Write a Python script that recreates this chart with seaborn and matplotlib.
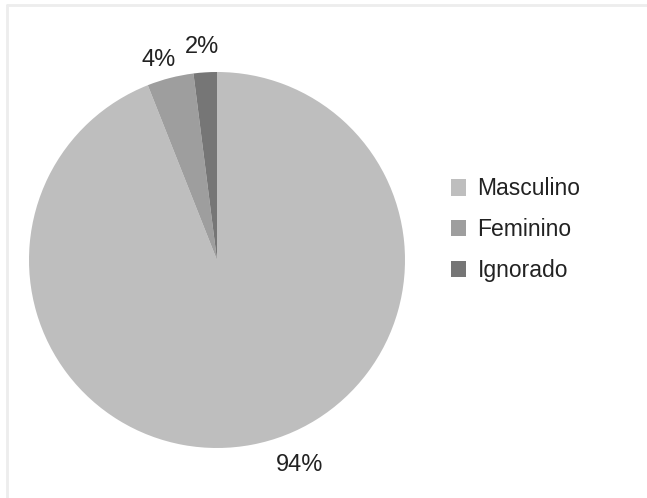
import matplotlib
matplotlib.use("Agg")
import matplotlib.pyplot as plt
import seaborn as sns
from matplotlib.patches import Rectangle
from matplotlib.lines import Line2D

categories = ["Masculino", "Feminino", "Ignorado"]
values = [94, 4, 2]
pct_labels = ["94%", "4%", "2%"]
colors = ["#BEBEBE", "#9E9E9E", "#767676"]

sns.set_theme(style="white")
plt.rcParams['font.family'] = ['Liberation Sans', 'DejaVu Sans']

W, H = 647, 498
fig = plt.figure(figsize=(W / 100, H / 100), dpi=100)
fig.patch.set_facecolor("white")

cx, cy, r = 217, 260, 188
ax = fig.add_axes([(cx - r) / W, (H - cy - r) / H, 2 * r / W, 2 * r / H])

wedges, texts = ax.pie(values, colors=colors, startangle=90, counterclock=False,
                       labels=pct_labels, labeldistance=1.12,
                       wedgeprops=dict(linewidth=0),
                       textprops=dict(fontsize=17, color="#222222"))
label_pos = [(0.44, -1.09), (-0.31, 1.065), (-0.08, 1.135)]
for t, p in zip(texts, label_pos):
    t.set_position(p)
    t.set_ha("center")
    t.set_va("center")
ax.set_xlim(-1, 1)
ax.set_ylim(-1, 1)
ax.set_aspect("equal")
ax.axis("off")

handles = [Rectangle((0, 0), 1, 1, facecolor=c, edgecolor="none") for c in colors]
fig.legend(handles, categories, loc="upper left",
           bbox_to_anchor=(442 / W, (H - 168) / H), frameon=False,
           fontsize=16.5, handlelength=0.65, handleheight=0.75,
           handletextpad=0.5, labelspacing=0.78, borderaxespad=0,
           labelcolor="#222222")

fig.add_artist(Line2D([7 / W, 1], [(H - 5) / H, (H - 5) / H], transform=fig.transFigure,
                      color="#ededed", linewidth=2))
fig.add_artist(Line2D([7 / W, 7 / W], [0, (H - 5) / H], transform=fig.transFigure,
                      color="#ededed", linewidth=2))

fig.savefig("out.png", dpi=100)
